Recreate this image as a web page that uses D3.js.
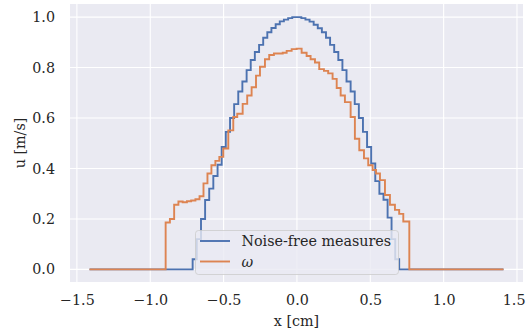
<!DOCTYPE html>
<html lang="en">
<head>
    <meta charset="UTF-8">
    <title>Velocity profile</title>
    <style>
        body { margin: 0; background: #fff; }
        text { font-family: "DejaVu Serif", serif; fill: #262626; }
        .grid line { stroke: #fff; stroke-width: 1.1px; }
    </style>
</head>
<body>
    <div id="chart"></div>

    <script src="https://d3js.org/d3.v7.min.js"></script>
    <script>
        // step edges (x where a new value starts) and values
        const freeX = [-1.414, -0.711, -0.683, -0.654, -0.626, -0.598, -0.570, -0.541, -0.513, -0.485,
            -0.456, -0.428, -0.400, -0.372, -0.343, -0.315, -0.287, -0.258, -0.230, -0.202, -0.174,
            -0.145, -0.117, -0.089, -0.060, -0.032, 0.030, 0.058, 0.086, 0.114, 0.142, 0.170, 0.198,
            0.226, 0.254, 0.282, 0.310, 0.338, 0.366, 0.394, 0.422, 0.450, 0.478, 0.506, 0.534, 0.562,
            0.590, 0.618, 0.645, 0.670, 0.697, 1.408];
        const freeY = [0, 0.04, 0.12, 0.20, 0.275, 0.32, 0.37, 0.415, 0.485, 0.545,
            0.60, 0.655, 0.705, 0.745, 0.79, 0.83, 0.862, 0.89, 0.918, 0.94, 0.957,
            0.972, 0.983, 0.99, 0.996, 1.0, 0.996, 0.99, 0.982, 0.97, 0.956, 0.94, 0.918,
            0.89, 0.862, 0.83, 0.79, 0.745, 0.705, 0.655, 0.60, 0.545, 0.485, 0.42, 0.35, 0.30,
            0.276, 0.205, 0.12, 0.04, 0, 0];

        const omegaX = [-1.414, -0.895, -0.866, -0.837, -0.808, -0.779, -0.750, -0.721, -0.692, -0.664,
            -0.637, -0.610, -0.583, -0.556, -0.529, -0.502, -0.468, -0.434, -0.407, -0.370, -0.339,
            -0.309, -0.279, -0.252, -0.218, -0.189, -0.157, -0.127, -0.097, -0.070, -0.036, -0.002,
            0.032, 0.066, 0.093, 0.123, 0.152, 0.184, 0.213, 0.243, 0.271, 0.298, 0.327, 0.366,
            0.395, 0.425, 0.457, 0.486, 0.516, 0.539, 0.566, 0.600, 0.634, 0.668, 0.697, 0.725,
            0.766, 1.408];
        const omegaY = [0, 0.186, 0.20, 0.256, 0.269, 0.266, 0.27, 0.273, 0.278, 0.29,
            0.341, 0.38, 0.413, 0.43, 0.446, 0.479, 0.551, 0.604, 0.617, 0.656, 0.689,
            0.722, 0.768, 0.803, 0.833, 0.85, 0.856, 0.856, 0.859, 0.866, 0.873, 0.875,
            0.859, 0.846, 0.833, 0.82, 0.794, 0.787, 0.777, 0.755, 0.719, 0.689, 0.663, 0.604,
            0.518, 0.472, 0.44, 0.413, 0.394, 0.38, 0.354, 0.295, 0.256, 0.236, 0.22, 0.19,
            0, 0];

        const seriesNames = ["Noise-free measures", "\u03c9"];
        const seriesColors = ["#4C72B0", "#DD8452"];
        const xTicks = [-1.5, -1.0, -0.5, 0.0, 0.5, 1.0, 1.5];
        const yTicks = [0.0, 0.2, 0.4, 0.6, 0.8, 1.0];

        const width = 526;
        const height = 335;
        const plot = { left: 70, top: 4, right: 523, bottom: 282 };
        const fontSize = "14.3px";

        const svg = d3.select("#chart")
            .append("svg")
            .attr("width", width)
            .attr("height", height);

        const x = d3.scaleLinear().domain([-1.547, 1.541]).range([plot.left, plot.right]);
        const y = d3.scaleLinear().domain([-0.05, 1.052]).range([plot.bottom, plot.top]);

        svg.append("rect")
            .attr("x", plot.left)
            .attr("y", plot.top)
            .attr("width", plot.right - plot.left)
            .attr("height", plot.bottom - plot.top)
            .attr("fill", "#EAEAF2");

        const fmt = d => d3.format(".1f")(d).replace("-", "\u2212");

        // grid
        const grid = svg.append("g").attr("class", "grid");
        grid.selectAll(".gx")
            .data(xTicks)
            .enter().append("line")
            .attr("x1", d => x(d)).attr("x2", d => x(d))
            .attr("y1", plot.top).attr("y2", plot.bottom);
        grid.selectAll(".gy")
            .data(yTicks)
            .enter().append("line")
            .attr("x1", plot.left).attr("x2", plot.right)
            .attr("y1", d => y(d)).attr("y2", d => y(d));

        // axes (no tick marks, seaborn style)
        const xAxis = svg.append("g")
            .attr("transform", `translate(0,${plot.bottom})`)
            .call(d3.axisBottom(x).tickValues(xTicks).tickFormat(fmt).tickSize(0).tickPadding(13));
        const yAxis = svg.append("g")
            .attr("transform", `translate(${plot.left},0)`)
            .call(d3.axisLeft(y).tickValues(yTicks).tickFormat(fmt).tickSize(0).tickPadding(15));
        [xAxis, yAxis].forEach(a => {
            a.select(".domain").remove();
            a.selectAll("text").style("font-size", fontSize).attr("fill", "#262626")
                .style("font-family", "'DejaVu Serif', serif");
        });
        // keep the last x label inside the page
        xAxis.selectAll(".tick text")
            .filter(d => d === 1.5)
            .attr("text-anchor", "end")
            .attr("dx", 8);

        svg.append("text")
            .attr("x", (plot.left + plot.right) / 2)
            .attr("y", 326)
            .attr("text-anchor", "middle")
            .style("font-size", fontSize)
            .text("x [cm]");

        svg.append("text")
            .attr("transform", `translate(25,${(plot.top + plot.bottom) / 2}) rotate(-90)`)
            .attr("text-anchor", "middle")
            .style("font-size", fontSize)
            .text("u [m/s]");

        // step lines
        const line = d3.line()
            .x(d => x(d[0]))
            .y(d => y(d[1]))
            .curve(d3.curveStepAfter);

        const series = [
            d3.zip(freeX, freeY),
            d3.zip(omegaX, omegaY)
        ];

        svg.selectAll(".series")
            .data(series)
            .enter().append("path")
            .attr("class", "series")
            .attr("d", line)
            .attr("fill", "none")
            .attr("stroke", (d, i) => seriesColors[i])
            .attr("stroke-width", 1.9)
            .attr("stroke-linejoin", "miter");

        // legend
        const legend = svg.append("g");
        legend.append("rect")
            .attr("x", 195.5).attr("y", 230.5)
            .attr("width", 203).attr("height", 44)
            .attr("rx", 3)
            .attr("fill", "#EAEAF2").attr("fill-opacity", 0.8)
            .attr("stroke", "#cccccc").attr("stroke-opacity", 0.8);

        seriesNames.forEach((name, i) => {
            const ly = 241 + i * 20.5;
            legend.append("line")
                .attr("x1", 200).attr("x2", 230)
                .attr("y1", ly).attr("y2", ly)
                .attr("stroke", seriesColors[i])
                .attr("stroke-width", 1.9);
            legend.append("text")
                .attr("x", 241.5)
                .attr("y", ly)
                .attr("dy", "0.35em")
                .style("font-size", fontSize)
                .style("font-style", i === 1 ? "italic" : "normal")
                .text(name);
        });
    </script>
</body>
</html>
